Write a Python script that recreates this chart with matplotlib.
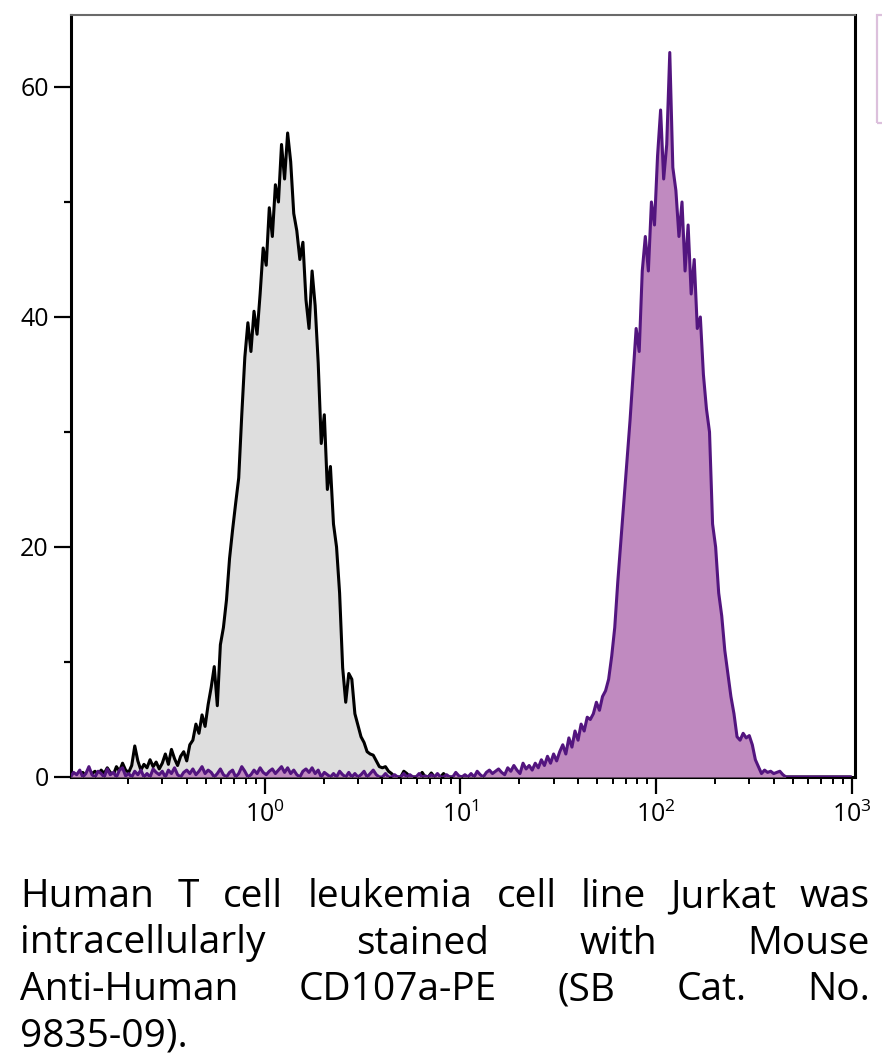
import numpy as np
import matplotlib
matplotlib.use("Agg")
import matplotlib.pyplot as plt
from matplotlib.patches import Rectangle
from matplotlib.ticker import FixedLocator, LogLocator, NullFormatter

FONT = ['Open Sans', 'DejaVu Sans']
plt.rcParams['font.family'] = FONT
plt.rcParams['mathtext.fontset'] = 'custom'
plt.rcParams['mathtext.rm'] = 'Open Sans'
plt.rcParams['mathtext.it'] = 'Open Sans:italic'
plt.rcParams['mathtext.bf'] = 'Open Sans:bold'

# ---------------- data: 256 log-spaced channels from 10^-1 to 10^3 ----------------
n_bins = 256
x_min_decade, x_max_decade = -1, 3

# isotype control (black outline, grey fill)
control_low = [0.1, 0.3, 0.0, 0.2, 0.4, 0.1, 0.0, 0.3, 0.5, 0.2,
               0.6, 0.3, 0.8, 0.4, 0.2, 0.9, 0.5, 1.2, 0.6, 0.4,
               1.0, 2.7, 1.4, 0.6, 1.1, 0.8, 1.5, 0.9, 1.3, 0.7,
               1.2, 2.0, 1.1, 2.4, 1.6, 1.0]
control_peak = [1.8, 2.2, 1.4, 2.8, 3.2, 4.6, 3.8, 5.4, 4.4, 6.3,
                7.8, 9.6, 6.2, 11.5, 13.0, 15.4, 19.0, 21.5, 23.8, 26.0,
                31.5, 36.5, 39.5, 37.0, 40.5, 38.5, 42.0, 46.0, 44.5, 49.5,
                47.0, 51.5, 50.0, 55.0, 52.0, 56.0, 53.5, 49.0, 47.5, 45.0,
                46.5, 41.5, 39.0, 44.0, 41.0, 36.0, 29.0, 31.5, 25.0, 27.0,
                22.0, 20.0, 16.0, 9.5, 6.5, 9.0, 8.5, 5.5, 4.5, 3.5,
                3.0, 2.2, 2.0, 1.9, 1.4, 0.9, 0.8, 0.9, 0.5, 0.3]
control_high = [0.0, 0.0, 0.0, 0.5, 0.3, 0.0, 0.0, 0.0, 0.0, 0.4,
                0.0, 0.0, 0.35, 0.0, 0.0, 0.0, 0.3, 0.0, 0.0, 0.0]
control_counts = control_low + control_peak + control_high
control_counts += [0.0] * (n_bins - len(control_counts))

# CD107a-PE stained (purple outline, mauve fill)
stained_low = [0.0, 0.4, 0.2, 0.6, 0.0, 0.3, 0.9, 0.2, 0.0, 0.5,
               0.3, 0.0, 0.7, 0.2, 0.4, 0.0, 0.6, 0.8, 0.1, 0.3,
               0.0, 0.5, 0.2, 0.6, 0.0, 0.3, 0.0, 0.7, 0.4, 0.2,
               0.5, 0.0, 0.6, 0.3, 0.8, 0.2, 0.0, 0.4, 0.6, 0.3,
               0.7, 0.2, 0.5, 0.9, 0.3, 0.6, 0.4, 0.0, 0.3, 0.7,
               0.2, 0.0, 0.4, 0.6, 0.0, 0.3, 0.9, 0.5, 0.0, 0.2,
               0.6, 0.3, 0.8, 0.4, 0.2, 0.5, 0.7, 0.3, 0.6, 0.9,
               0.4, 0.8, 0.3, 0.6, 0.2, 0.0, 0.5, 0.7, 0.4, 0.8,
               0.3, 0.6, 0.0, 0.4, 0.2, 0.0, 0.3, 0.0, 0.5, 0.2,
               0.0, 0.4, 0.0, 0.3, 0.0, 0.2, 0.5, 0.0, 0.3, 0.6,
               0.2, 0.0, 0.0, 0.3, 0.0, 0.0, 0.2, 0.0, 0.0, 0.3,
               0.0, 0.2, 0.0, 0.0, 0.3, 0.0, 0.1, 0.0, 0.2, 0.0,
               0.3, 0.0, 0.0, 0.2, 0.0, 0.0, 0.4, 0.1, 0.0, 0.2,
               0.0, 0.3, 0.0, 0.5, 0.2, 0.0, 0.4, 0.6, 0.3, 0.5,
               0.7, 0.4, 0.2, 0.8, 0.5, 1.0, 0.6, 0.3, 1.2, 0.7]
stained_peak = [1.0, 0.6, 1.2, 0.8, 1.5, 1.0, 1.8, 1.2, 2.0, 1.4,
                2.2, 2.8, 2.0, 3.4, 2.6, 4.0, 3.2, 4.6, 4.0, 5.2,
                5.0, 5.5, 6.5, 5.8, 7.0, 7.5, 8.5, 10.5, 13.0, 17.0,
                20.5, 24.0, 27.5, 31.0, 35.0, 39.0, 37.0, 44.0, 47.0, 44.0,
                50.0, 48.0, 54.0, 58.0, 52.0, 55.0, 63.0, 53.0, 51.0, 47.0,
                50.0, 44.0, 48.0, 42.0, 45.0, 39.0, 40.0, 35.0, 32.0, 30.0,
                22.0, 20.0, 16.0, 14.0, 11.0, 9.0, 7.0, 5.5, 3.5, 3.2,
                3.8, 3.4, 3.6, 2.8, 1.5, 0.9, 0.3, 0.6, 0.4, 0.5,
                0.3, 0.4, 0.5, 0.2]
stained_counts = stained_low + stained_peak
stained_counts += [0.0] * (n_bins - len(stained_counts))

y_major = [0, 20, 40, 60]
y_minor = [10, 30, 50]
y_max = 66.26

caption_lines = [
    "Human T cell leukemia cell line Jurkat was",
    "intracellularly stained with Mouse",
    "Anti-Human CD107a-PE (SB Cat. No.",
    "9835-09).",
]

# ---------------- figure ----------------
W, H = 882, 1059
fig = plt.figure(figsize=(W / 100, H / 100), dpi=100)
ax = fig.add_axes([71 / W, 1 - 777 / H, (855 - 71) / W, (777 - 15) / H])

edges = np.logspace(x_min_decade, x_max_decade, n_bins + 1)
centers = np.sqrt(edges[:-1] * edges[1:])
control = np.array(control_counts)
stained = np.array(stained_counts)

ax.fill_between(centers, 0, control, color='#dedede', lw=0, zorder=1)
ax.plot(centers, control, color='black', lw=2.2, zorder=2)
ax.fill_between(centers, 0, stained, color='#c08ac0', lw=0, zorder=3)
ax.plot(centers, stained, color='#53157f', lw=2.2, zorder=4)

ax.set_xscale('log')
ax.set_xlim(10 ** -0.99, 10 ** 3.017)
ax.set_ylim(0, y_max)

ax.yaxis.set_major_locator(FixedLocator(y_major))
ax.yaxis.set_minor_locator(FixedLocator(y_minor))
ax.xaxis.set_major_locator(FixedLocator([1, 10, 100, 1000]))
ax.xaxis.set_minor_locator(LogLocator(base=10, subs=np.arange(2, 10)))
ax.xaxis.set_minor_formatter(NullFormatter())
ax.set_xticklabels([r'$10^{0}$', r'$10^{1}$', r'$10^{2}$', r'$10^{3}$'])

for side in ['left', 'bottom', 'right']:
    ax.spines[side].set_linewidth(2.2)
    ax.spines[side].set_color('black')
ax.spines['top'].set_linewidth(1.5)
ax.spines['top'].set_color('#6a6a6a')

ax.tick_params(axis='y', which='major', length=12, width=1.6, direction='out',
               labelsize=18, pad=4, right=False)
ax.tick_params(axis='y', which='minor', length=5, width=1.6, direction='out', right=False)
ax.tick_params(axis='x', which='major', length=12, width=1.6, direction='out',
               labelsize=18, pad=6, top=False)
ax.tick_params(axis='x', which='minor', length=5, width=1.4, direction='out', top=False)

# partially visible legend frame at the right edge
fig.add_artist(Rectangle((877 / W, 1 - 123 / H), 40 / W, 108 / H,
                         transform=fig.transFigure, fill=False,
                         edgecolor='#dcc0dc', lw=1.6, clip_on=False))

# ---------------- justified caption ----------------
renderer = fig.canvas.get_renderer()
x_left, x_right = 20, 870
baselines = [907, 953.5, 1000, 1046]
fs = 28
probe1 = fig.text(0, 0, 'a a', fontsize=fs)
probe2 = fig.text(0, 0, 'aa', fontsize=fs)
space = probe1.get_window_extent(renderer).width - probe2.get_window_extent(renderer).width
probe1.remove()
probe2.remove()
for li, (line, yb) in enumerate(zip(caption_lines, baselines)):
    words = line.split(' ')
    texts = [fig.text(0, 1 - yb / H, w, fontsize=fs, va='baseline', ha='left',
                      family=FONT, color='black') for w in words]
    widths = [t.get_window_extent(renderer).width for t in texts]
    last = li == len(caption_lines) - 1
    if last or len(words) == 1:
        gap = space
    else:
        gap = (x_right - x_left - sum(widths)) / (len(words) - 1)
    x = x_left
    for t, w in zip(texts, widths):
        t.set_x(x / W)
        x += w + gap

fig.savefig('out.png', dpi=100)
